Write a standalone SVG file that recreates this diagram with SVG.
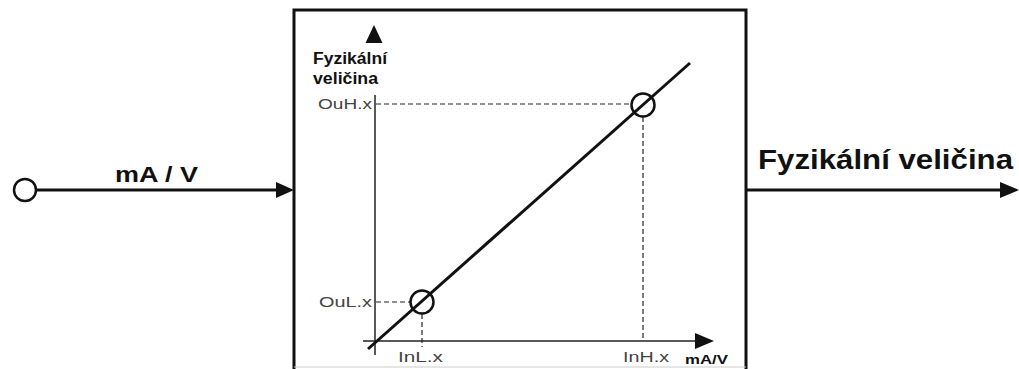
<svg xmlns="http://www.w3.org/2000/svg" width="1019" height="369" viewBox="0 0 1019 369">
<style>
.lbl{font-family:"Liberation Sans",Arial,sans-serif;font-weight:bold;fill:#111}
.seg{font-family:"Liberation Sans Narrow","Liberation Sans",Arial,sans-serif;font-size:14px;fill:#444}
.dash{stroke:#222;stroke-width:1.2;stroke-dasharray:5 3;fill:none}
.axis{stroke:#222;stroke-width:1.5;fill:none}
.wire{stroke:#111;stroke-width:3;fill:none}
</style>
<rect width="1019" height="369" fill="#fff"/>
<g id="block">
<path d="M294,370 V10 H746 V370" fill="none" stroke="#111" stroke-width="3"/>
<line x1="294" y1="367" x2="746" y2="367" stroke="#ccc" stroke-width="1"/>
</g>
<g id="input-terminal">
<circle cx="25" cy="190" r="11" fill="#fff" stroke="#111" stroke-width="2.5"/>
</g>
<g id="connectors">
<line class="wire" x1="36" y1="190" x2="278" y2="190"/>
<polygon points="276,182 294,190 276,198" fill="#111"/>
<line class="wire" x1="746" y1="190" x2="1002" y2="190"/>
<polygon points="1000,182 1019,190 1000,198" fill="#111"/>
</g>
<text class="lbl" x="115" y="182" font-size="22" textLength="83" lengthAdjust="spacingAndGlyphs">mA / V</text>
<text class="lbl" x="758" y="169" font-size="27" textLength="255" lengthAdjust="spacingAndGlyphs">Fyzikální veličina</text>
<g id="chart">
<polygon points="374,25 382.5,43 365.5,43" fill="#111"/>
<text class="lbl" x="313" y="64" font-size="16" textLength="74" lengthAdjust="spacingAndGlyphs">Fyzikální</text>
<text class="lbl" x="313" y="84" font-size="16" textLength="65" lengthAdjust="spacingAndGlyphs">veličina</text>
<line class="axis" x1="375" y1="95" x2="375" y2="355"/>
<line class="axis" x1="363" y1="341" x2="698" y2="341"/>
<polygon points="695,333 714,341 695,349" fill="#111"/>
<line class="dash" x1="376" y1="104" x2="631" y2="104"/>
<line class="dash" x1="643" y1="117" x2="643" y2="341"/>
<line class="dash" x1="376" y1="302" x2="410" y2="302"/>
<line class="dash" x1="422" y1="314" x2="422" y2="347"/>
<line stroke="#111" stroke-width="3" x1="368" y1="349" x2="690" y2="63"/>
<circle cx="422" cy="302" r="11.5" fill="none" stroke="#111" stroke-width="2.5"/>
<circle cx="643" cy="105" r="11.5" fill="none" stroke="#111" stroke-width="2.5"/>
<text class="seg" x="318" y="109" textLength="54" lengthAdjust="spacingAndGlyphs">OuH.x</text>
<text class="seg" x="319" y="307" textLength="53" lengthAdjust="spacingAndGlyphs">OuL.x</text>
<text class="seg" x="398" y="362" textLength="45" lengthAdjust="spacingAndGlyphs">InL.x</text>
<text class="seg" x="623" y="362" textLength="46" lengthAdjust="spacingAndGlyphs">InH.x</text>
<text class="lbl" x="685" y="364" font-size="13" textLength="43" lengthAdjust="spacingAndGlyphs">mA/V</text>
</g>
</svg>
